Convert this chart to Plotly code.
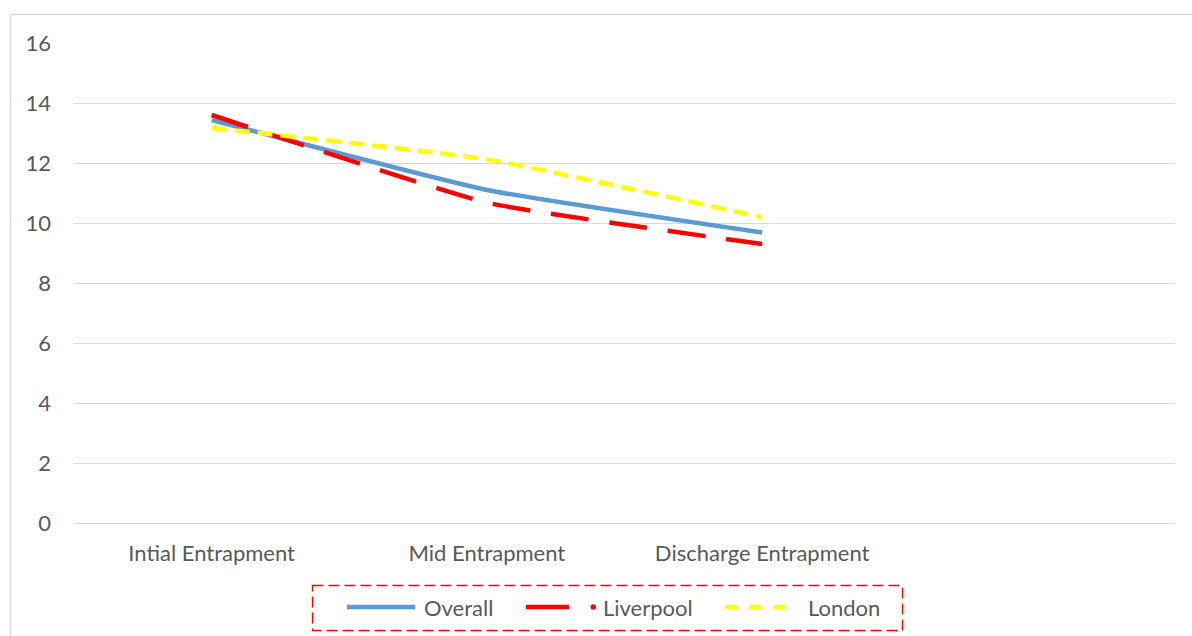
import plotly.graph_objects as go

categories = ["Intial Entrapment", "Mid Entrapment", "Discharge Entrapment"]
overall = [13.43, 11.1, 9.68]
liverpool = [13.6, 10.68, 9.3]
london = [13.17, 12.12, 10.19]
y_ticks = [0, 2, 4, 6, 8, 10, 12, 14, 16]

W, H = 1192, 636
L, R, T, B = 74, 17, 43, 113
pw, ph = W - L - R, H - T - B

def px(x):
    return (x - L) / pw

def py(y):
    return (H - B - y) / ph

FONT = "Lato"
TXT = "#595959"
FS = 22

fig = go.Figure()
fig.add_trace(go.Scatter(x=categories, y=overall, mode="lines", name="Overall",
                         line=dict(color="#5B9BD5", width=4.5, shape="spline", smoothing=0.4)))
fig.add_trace(go.Scatter(x=categories, y=liverpool, mode="lines", name="Liverpool",
                         line=dict(color="#FF0000", width=4.5, dash="38px,21px", shape="spline", smoothing=0.4)))
fig.add_trace(go.Scatter(x=categories, y=london, mode="lines", name="London",
                         line=dict(color="#FFFF00", width=4.5, dash="15px,8px", shape="spline", smoothing=0.4)))

shapes = []
# outer chart border
shapes.append(dict(type="rect", xref="paper", yref="paper",
                   x0=px(10.5), x1=px(1200), y0=py(14.5), y1=py(700),
                   line=dict(color="#D9D9D9", width=1.5), layer="below"))
# legend box
shapes.append(dict(type="rect", xref="paper", yref="paper",
                   x0=px(312.5), x1=px(902.5), y0=py(585.5), y1=py(630.5),
                   line=dict(color="#FF0000", width=1.3, dash="11px,5px")))
ly = py(607)
shapes.append(dict(type="line", xref="paper", yref="paper", x0=px(347), x1=px(415), y0=ly, y1=ly,
                   line=dict(color="#5B9BD5", width=4.5)))
shapes.append(dict(type="line", xref="paper", yref="paper", x0=px(526), x1=px(569), y0=ly, y1=ly,
                   line=dict(color="#FF0000", width=4.5)))
shapes.append(dict(type="circle", xref="paper", yref="paper", x0=px(590.5), x1=px(596),
                   y0=py(609.8), y1=py(604.3), fillcolor="#FF0000", line=dict(color="#FF0000", width=0)))
for a, b in [(725, 737), (749, 761), (773, 785)]:
    shapes.append(dict(type="line", xref="paper", yref="paper", x0=px(a), x1=px(b), y0=ly, y1=ly,
                       line=dict(color="#FFFF00", width=4.5)))

annotations = []
for label, xpos in [("Overall", 422), ("Liverpool", 601), ("London", 806)]:
    annotations.append(dict(text=label, xref="paper", yref="paper", x=px(xpos), y=ly,
                            xanchor="left", yanchor="middle", showarrow=False,
                            font=dict(family=FONT, size=FS, color=TXT)))

fig.update_layout(
    width=W, height=H,
    margin=dict(l=L, r=R, t=T, b=B),
    paper_bgcolor="white", plot_bgcolor="white",
    showlegend=False,
    font=dict(family=FONT, size=FS, color=TXT),
    shapes=shapes, annotations=annotations,
    xaxis=dict(type="category", range=[-0.5, 3.5], showgrid=False, showline=False,
               zeroline=False, ticks="", tickfont=dict(family=FONT, size=FS, color=TXT),
               ticklabelstandoff=15),
    yaxis=dict(range=[0, 16], tickvals=y_ticks, showgrid=True, gridcolor="#D9D9D9",
               gridwidth=1.3, zeroline=True, zerolinecolor="#D9D9D9", zerolinewidth=1.3,
               showline=False, ticks="", tickfont=dict(family=FONT, size=FS, color=TXT),
               ticklabelstandoff=22),
)

fig.write_html("out.html")
